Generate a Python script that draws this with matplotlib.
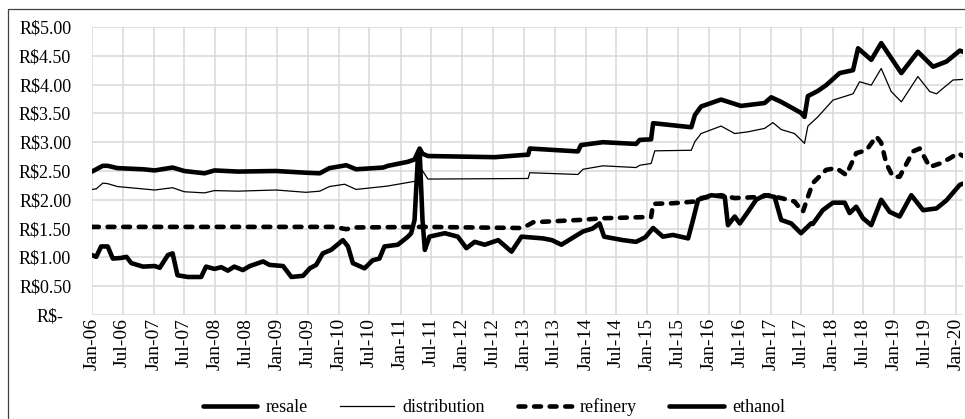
import numpy as np
import pandas as pd
import matplotlib
matplotlib.use("Agg")
import matplotlib.pyplot as plt
import matplotlib.dates as mdates
from matplotlib.patches import Rectangle
from matplotlib.transforms import ScaledTranslation

plt.rcParams['font.family'] = ['Liberation Serif', 'DejaVu Serif']

# values (R$ per litre)
resale_dates = ["2006-01-01", "2006-03-06", "2006-04-04", "2006-06-01", "2006-10-30",
                "2007-01-07", "2007-04-23", "2007-07-01", "2007-10-29", "2007-12-27",
                "2008-05-14", "2008-12-25", "2009-06-20", "2009-09-10", "2009-11-06",
                "2010-02-14", "2010-04-13", "2010-09-20", "2010-10-19", "2011-02-14",
                "2011-03-25", "2011-04-24", "2011-05-11", "2011-06-12", "2011-12-27",
                "2012-07-12", "2013-01-05", "2013-01-25", "2013-02-04", "2013-11-16",
                "2013-12-04", "2014-04-13", "2014-10-26", "2014-11-17", "2015-01-23",
                "2015-02-04", "2015-09-18", "2015-10-09", "2015-11-15", "2016-03-12",
                "2016-07-08", "2016-11-25", "2017-01-03", "2017-03-03", "2017-06-28",
                "2017-07-19", "2017-08-08", "2017-10-06", "2017-11-24", "2018-02-12",
                "2018-05-02", "2018-06-01", "2018-08-18", "2018-10-16", "2019-02-12",
                "2019-05-21", "2019-08-19", "2019-11-06", "2020-01-24", "2020-02-12"]
resale = [2.49, 2.59, 2.59, 2.55, 2.53,
          2.51, 2.56, 2.50, 2.46, 2.51,
          2.49, 2.50, 2.47, 2.46, 2.55,
          2.60, 2.53, 2.56, 2.59, 2.66,
          2.70, 2.89, 2.80, 2.76, 2.75,
          2.74, 2.78, 2.78, 2.89, 2.84,
          2.95, 3.00, 2.97, 3.04, 3.05,
          3.33, 3.26, 3.47, 3.62, 3.74,
          3.63, 3.68, 3.78, 3.70, 3.51,
          3.44, 3.80, 3.89, 3.99, 4.20,
          4.25, 4.63, 4.43, 4.72, 4.20,
          4.57, 4.31, 4.40, 4.59, 4.57]

distribution_dates = ["2006-01-01", "2006-01-26", "2006-03-06", "2006-04-04", "2006-06-01",
                      "2007-01-07", "2007-04-23", "2007-07-01", "2007-10-29", "2007-12-27",
                      "2008-05-14", "2008-12-25", "2009-06-20", "2009-09-10", "2009-11-06",
                      "2010-02-04", "2010-04-13", "2010-09-20", "2010-10-19", "2011-03-05",
                      "2011-04-14", "2011-05-01", "2011-06-12", "2013-01-25", "2013-02-04",
                      "2013-11-16", "2013-12-16", "2014-04-13", "2014-10-26", "2014-11-17",
                      "2015-01-23", "2015-02-14", "2015-09-18", "2015-10-09", "2015-11-15",
                      "2016-03-12", "2016-06-01", "2016-08-18", "2016-11-25", "2017-01-13",
                      "2017-03-03", "2017-05-21", "2017-07-19", "2017-08-08", "2017-10-06",
                      "2018-01-03", "2018-05-02", "2018-06-10", "2018-08-18", "2018-10-16",
                      "2018-12-14", "2019-02-12", "2019-05-21", "2019-07-30", "2019-09-08",
                      "2019-12-15", "2020-02-12"]
distribution = [2.18, 2.19, 2.29, 2.28, 2.23,
                2.17, 2.21, 2.14, 2.12, 2.16,
                2.15, 2.17, 2.13, 2.15, 2.23,
                2.27, 2.18, 2.23, 2.24, 2.31,
                2.33, 2.55, 2.36, 2.37, 2.47,
                2.44, 2.53, 2.59, 2.56, 2.60,
                2.63, 2.85, 2.86, 3.01, 3.15,
                3.28, 3.15, 3.18, 3.24, 3.34,
                3.22, 3.15, 2.98, 3.28, 3.44,
                3.73, 3.84, 4.05, 3.99, 4.28,
                3.88, 3.70, 4.14, 3.88, 3.84,
                4.08, 4.09]

refinery_dates = ["2006-01-01", "2009-12-01", "2010-02-14", "2010-04-13", "2011-05-25",
                  "2012-12-17", "2013-01-25", "2013-02-24", "2013-11-26", "2014-04-13",
                  "2014-12-26", "2015-01-23", "2015-02-04", "2015-06-01", "2015-10-09",
                  "2015-11-15", "2016-03-12", "2016-06-01", "2016-11-05", "2016-12-14",
                  "2017-03-03", "2017-05-21", "2017-07-09", "2017-08-08", "2017-09-06",
                  "2017-11-24", "2018-01-23", "2018-03-23", "2018-05-21", "2018-07-20",
                  "2018-09-17", "2018-10-16", "2018-11-15", "2018-12-24", "2019-02-02",
                  "2019-04-22", "2019-06-01", "2019-07-30", "2019-09-28", "2019-11-26",
                  "2020-01-14", "2020-02-12"]
refinery = [1.53, 1.53, 1.49, 1.52, 1.53,
            1.51, 1.56, 1.61, 1.65, 1.68,
            1.70, 1.70, 1.93, 1.94, 1.97,
            2.03, 2.08, 2.03, 2.05, 2.08,
            2.03, 1.97, 1.79, 2.05, 2.29,
            2.52, 2.55, 2.43, 2.81, 2.86,
            3.10, 2.99, 2.63, 2.40, 2.40,
            2.84, 2.89, 2.57, 2.63, 2.72,
            2.81, 2.76]

ethanol_dates = ["2006-01-01", "2006-01-26", "2006-02-24", "2006-04-04", "2006-05-04",
                 "2006-06-21", "2006-07-24", "2006-08-22", "2006-10-30", "2007-01-07",
                 "2007-02-06", "2007-03-26", "2007-04-23", "2007-05-22", "2007-07-22",
                 "2007-10-09", "2007-11-07", "2007-12-27", "2008-02-05", "2008-03-15",
                 "2008-04-22", "2008-06-12", "2008-07-23", "2008-10-10", "2008-11-16",
                 "2009-02-05", "2009-03-26", "2009-06-03", "2009-07-13", "2009-08-20",
                 "2009-09-28", "2009-11-16", "2010-01-25", "2010-02-24", "2010-03-25",
                 "2010-06-02", "2010-07-20", "2010-08-29", "2010-09-28", "2010-12-16",
                 "2011-02-14", "2011-03-05", "2011-03-25", "2011-04-14", "2011-04-24",
                 "2011-05-11", "2011-05-25", "2011-06-21", "2011-09-20", "2011-12-06",
                 "2012-01-26", "2012-03-15", "2012-05-13", "2012-08-01", "2012-10-19",
                 "2012-12-17", "2013-04-23", "2013-06-15", "2013-08-10", "2013-10-10",
                 "2013-12-16", "2014-02-10", "2014-03-24", "2014-04-20", "2014-08-09",
                 "2014-10-26", "2014-12-20", "2015-02-04", "2015-04-03", "2015-06-01",
                 "2015-08-30", "2015-09-28", "2015-10-28", "2016-01-15", "2016-04-03",
                 "2016-04-22", "2016-06-01", "2016-07-01", "2016-08-18", "2016-10-06",
                 "2016-11-25", "2017-01-23", "2017-03-03", "2017-05-01", "2017-06-28",
                 "2017-08-27", "2017-09-06", "2017-11-04", "2018-01-03", "2018-03-14",
                 "2018-04-12", "2018-05-21", "2018-06-30", "2018-08-18", "2018-10-16",
                 "2018-12-05", "2019-02-02", "2019-04-12", "2019-06-21", "2019-09-08",
                 "2019-11-06", "2020-01-24", "2020-02-12"]
ethanol = [1.04, 1.01, 1.19, 1.19, 0.98,
           0.99, 1.01, 0.90, 0.84, 0.85,
           0.82, 1.04, 1.07, 0.69, 0.66,
           0.66, 0.84, 0.80, 0.83, 0.77,
           0.84, 0.78, 0.85, 0.93, 0.87,
           0.85, 0.66, 0.68, 0.81, 0.87,
           1.07, 1.13, 1.30, 1.19, 0.90,
           0.81, 0.95, 0.98, 1.19, 1.22,
           1.36, 1.42, 1.65, 2.75, 2.86,
           1.65, 1.13, 1.36, 1.42, 1.36,
           1.16, 1.27, 1.22, 1.30, 1.10,
           1.36, 1.33, 1.30, 1.22, 1.33,
           1.45, 1.50, 1.59, 1.36, 1.30,
           1.27, 1.35, 1.51, 1.36, 1.39,
           1.33, 1.65, 2.00, 2.08, 2.05,
           1.56, 1.71, 1.59, 1.79, 2.00,
           2.08, 2.05, 1.65, 1.59, 1.42,
           1.59, 1.58, 1.82, 1.95, 1.95,
           1.77, 1.88, 1.68, 1.56, 2.00,
           1.79, 1.71, 2.08, 1.82, 1.85,
           1.99, 2.26, 2.28]

y_ticks = [0, 0.5, 1.0, 1.5, 2.0, 2.5, 3.0, 3.5, 4.0, 4.5, 5.0]
y_labels = ["R$-", "R$0.50", "R$1.00", "R$1.50", "R$2.00", "R$2.50",
            "R$3.00", "R$3.50", "R$4.00", "R$4.50", "R$5.00"]

W, H = 965, 419
fig = plt.figure(figsize=(W / 100, H / 100), dpi=100)
ax = fig.add_axes([92 / W, 1 - 315 / H, (963 - 92) / W, (315 - 27) / H])

lw = 3.3
ax.plot(pd.to_datetime(resale_dates), resale, color='black', lw=lw,
        solid_capstyle='round', solid_joinstyle='round', label='resale', zorder=4)
ax.plot(pd.to_datetime(distribution_dates), distribution, color='black', lw=0.9,
        label='distribution', zorder=3)
ax.plot(pd.to_datetime(refinery_dates), refinery, color='black', lw=lw,
        linestyle=(0, (1.5, 1.9)), dash_capstyle='round', label='refinery', zorder=3)
ax.plot(pd.to_datetime(ethanol_dates), ethanol, color='black', lw=lw,
        solid_capstyle='round', solid_joinstyle='round', label='ethanol', zorder=4)

ax.set_xlim(pd.Timestamp("2006-01-01"), pd.Timestamp("2020-02-12"))
ax.set_ylim(0, 5)
ax.set_yticks(y_ticks)
ax.set_yticklabels(y_labels, fontsize=13)
ax.xaxis.set_major_locator(mdates.MonthLocator(bymonth=[1, 7]))
ax.xaxis.set_major_formatter(mdates.DateFormatter("%b-%y"))
ax.tick_params(axis='x', labelrotation=90, labelsize=14, length=0, pad=2)
ax.tick_params(axis='y', length=0, pad=15)

# zero label in accounting format sits a bit to the left
zero_lab = ax.get_yticklabels()[0]
zero_lab.set_transform(zero_lab.get_transform() + ScaledTranslation(-8 / 100, 0, fig.dpi_scale_trans))

ax.grid(True, color='#d9d9d9', lw=1.1)
ax.set_axisbelow(True)
for s in ax.spines.values():
    s.set_visible(False)

# chart frame (cut off on right and bottom in the reference)
fig.patches.append(Rectangle((8 / W, -0.05), 1.1, 1 - 9 / H + 0.05, transform=fig.transFigure,
                             fill=False, edgecolor='#404040', lw=0.9))

fig.legend(loc='center', bbox_to_anchor=(494 / W, 1 - 407 / H), ncol=4, frameon=False,
           fontsize=13, handlelength=3, columnspacing=1.8, handletextpad=0.45)

fig.savefig("out.png", dpi=100)
